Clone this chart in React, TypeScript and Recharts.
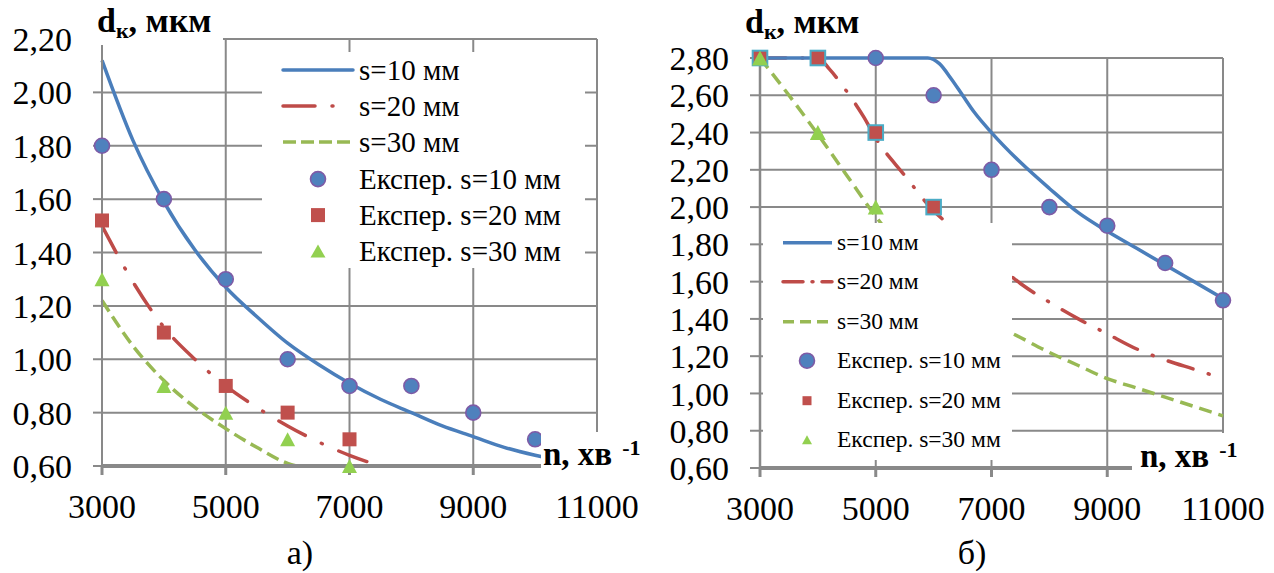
import React from "react";
import { CartesianGrid, ComposedChart, Legend, Line, Scatter, XAxis, YAxis } from "recharts";

type Pt = [number, number];

const nTicks = [3000, 5000, 7000, 9000, 11000];
const leftDTicks = [0.6, 0.8, 1.0, 1.2, 1.4, 1.6, 1.8, 2.0, 2.2];
const rightDTicks = [0.6, 0.8, 1.0, 1.2, 1.4, 1.6, 1.8, 2.0, 2.2, 2.4, 2.6, 2.8];

const calcNames = ["s=10 мм", "s=20 мм", "s=30 мм"];
const expNames = ["Експер. s=10 мм", "Експер. s=20 мм", "Експер. s=30 мм"];

// а) calculated curves
const leftCalc10: Pt[] = [
  [3000, 2.12], [3500, 1.82], [4000, 1.59], [4500, 1.41], [5000, 1.27], [5500, 1.16],
  [6000, 1.06], [6500, 0.98], [7000, 0.91], [7500, 0.85], [8000, 0.8], [8500, 0.75],
  [9000, 0.71], [9500, 0.67], [10000, 0.64], [10400, 0.62],
];
const leftCalc20: Pt[] = [
  [3000, 1.5], [3500, 1.29], [4000, 1.12], [4500, 1.0], [5000, 0.9], [5500, 0.82],
  [6000, 0.75], [6500, 0.69], [7000, 0.64], [7500, 0.6],
];
const leftCalc30: Pt[] = [
  [3000, 1.22], [3500, 1.05], [4000, 0.92], [4500, 0.82], [5000, 0.74], [5500, 0.67],
  [6000, 0.61], [6150, 0.6],
];
// а) experiment
const leftExp10: Pt[] = [
  [3000, 1.8], [4000, 1.6], [5000, 1.3], [6000, 1.0], [7000, 0.9], [8000, 0.9], [9000, 0.8], [10000, 0.7],
];
const leftExp20: Pt[] = [[3000, 1.52], [4000, 1.1], [5000, 0.9], [6000, 0.8], [7000, 0.7]];
const leftExp30: Pt[] = [[3000, 1.3], [4000, 0.9], [5000, 0.8], [6000, 0.7], [7000, 0.6]];

// б) calculated curves
const rightCalc10: Pt[] = [
  [3000, 2.8], [4000, 2.8], [5000, 2.8], [5900, 2.8], [6100, 2.77], [6300, 2.69], [6500, 2.6],
  [6700, 2.51], [7000, 2.4], [7500, 2.24], [8000, 2.1], [8500, 1.97], [9000, 1.87], [9500, 1.78],
  [10000, 1.69], [10500, 1.6], [11000, 1.51],
];
const rightCalc20: Pt[] = [
  [3000, 2.8], [4000, 2.8], [4200, 2.74], [4500, 2.62], [4800, 2.48], [5000, 2.37], [5500, 2.17],
  [6000, 1.98], [6500, 1.85], [7000, 1.72], [7500, 1.59], [8000, 1.49], [8500, 1.4], [9000, 1.32],
  [9500, 1.24], [10000, 1.18], [10500, 1.13], [11000, 1.08],
];
const rightCalc30: Pt[] = [
  [3000, 2.8], [3500, 2.6], [4000, 2.39], [4500, 2.17], [5000, 1.95], [5500, 1.76], [6000, 1.6],
  [6500, 1.47], [7000, 1.38], [7500, 1.3], [8000, 1.22], [8500, 1.15], [9000, 1.08], [9500, 1.03],
  [10000, 0.98], [10500, 0.93], [11000, 0.88],
];
// б) experiment
const rightExp10: Pt[] = [[5000, 2.8], [6000, 2.6], [7000, 2.2], [8000, 2.0], [9000, 1.9], [10000, 1.7], [11000, 1.5]];
const rightExp20: Pt[] = [[3000, 2.8], [4000, 2.8], [5000, 2.4], [6000, 2.0]];
const rightExp30: Pt[] = [[3000, 2.8], [4000, 2.4], [5000, 2.0]];

const FONT = "Liberation Serif, DejaVu Serif, serif";
const GRID = "#898989";
const BLUE = "#4A7EBB";
const RED = "#BE4B48";
const OLIVE = "#98B954";
const DOT_BLUE = "#4F81BD";
const PURPLE = "#7E5BA6";
const SQ_RED = "#C0504D";
const TEAL = "#4BACC6";
const LIME = "#92D050";

const toRows = (pts: Pt[]) => pts.map(([n, d]) => ({ n, d }));
const fmt = (v: number) => v.toFixed(2).replace(".", ",");

const circleShape = (r: number) => (p: any) => (
  <circle cx={p.cx} cy={p.cy} r={r} fill={DOT_BLUE} stroke={PURPLE} strokeWidth={1.6} />
);
const squareShape = (h: number, stroke?: string) => (p: any) => (
  <rect x={p.cx - h} y={p.cy - h} width={2 * h} height={2 * h} fill={SQ_RED}
    stroke={stroke ?? "none"} strokeWidth={2} />
);
const triangleShape = (w: number, h: number) => (p: any) => (
  <polygon
    points={`${p.cx},${p.cy - h / 2} ${p.cx - w / 2},${p.cy + h / 2} ${p.cx + w / 2},${p.cy + h / 2}`}
    fill={LIME}
  />
);

type Row =
  | { kind: "line"; label: string; color: string; dash?: string; cap?: "round" | "butt" }
  | { kind: "circle" | "square" | "triangle"; label: string };

type LegendCfg = {
  rows: Row[];
  rowH: number;
  sampleX: number;
  sampleW: number;
  markerX: number;
  textX: number;
  fontSize: number;
  circleR: number;
  squareH: number;
  triW: number;
  triH: number;
  squeeze: number;
};

function LegendBox({ cfg }: { cfg: LegendCfg }) {
  return (
    <div style={{ background: "#fff", width: "100%", height: "100%", fontFamily: FONT }}>
      {cfg.rows.map((row) => {
        const cy = cfg.rowH / 2;
        let sample: React.ReactNode = null;
        if (row.kind === "line") {
          sample = (
            <line x1={cfg.sampleX} x2={cfg.sampleX + cfg.sampleW} y1={cy} y2={cy} stroke={row.color}
              strokeWidth={3.5} strokeDasharray={row.dash} strokeLinecap={row.cap ?? "butt"} />
          );
        } else if (row.kind === "circle") {
          sample = <circle cx={cfg.markerX} cy={cy} r={cfg.circleR} fill={DOT_BLUE} stroke={PURPLE} strokeWidth={1.6} />;
        } else if (row.kind === "square") {
          sample = <rect x={cfg.markerX - cfg.squareH} y={cy - cfg.squareH} width={2 * cfg.squareH} height={2 * cfg.squareH} fill={SQ_RED} />;
        } else {
          const x = cfg.markerX;
          sample = (
            <polygon points={`${x},${cy - cfg.triH / 2} ${x - cfg.triW / 2},${cy + cfg.triH / 2} ${x + cfg.triW / 2},${cy + cfg.triH / 2}`} fill={LIME} />
          );
        }
        return (
          <div key={row.label} style={{ position: "relative", height: cfg.rowH }}>
            <svg width={cfg.textX} height={cfg.rowH} style={{ position: "absolute", left: 0, top: 0 }}>
              {sample}
            </svg>
            <span style={{
              position: "absolute", left: cfg.textX, top: 0, lineHeight: `${cfg.rowH}px`,
              fontSize: cfg.fontSize, color: "#000", whiteSpace: "nowrap",
              transform: `scaleX(${cfg.squeeze})`, transformOrigin: "left center",
            }}>
              {row.label}
            </span>
          </div>
        );
      })}
    </div>
  );
}

const leftRows: Row[] = [
  { kind: "line", label: calcNames[0], color: BLUE, cap: "round" },
  { kind: "line", label: calcNames[1], color: RED, dash: "32 17 1 40", cap: "round" },
  { kind: "line", label: calcNames[2], color: OLIVE, dash: "13 5" },
  { kind: "circle", label: expNames[0] },
  { kind: "square", label: expNames[1] },
  { kind: "triangle", label: expNames[2] },
];

const rightRows: Row[] = [
  { kind: "line", label: calcNames[0], color: BLUE },
  { kind: "line", label: calcNames[1], color: RED, dash: "20 9 1 9", cap: "round" },
  { kind: "line", label: calcNames[2], color: OLIVE, dash: "11 6" },
  { kind: "circle", label: expNames[0] },
  { kind: "square", label: expNames[1] },
  { kind: "triangle", label: expNames[2] },
];

const axisTick = { fontSize: 34, fontFamily: FONT, fill: "#000" };

function LeftChart() {
  return (
    <ComposedChart width={640} height={573} margin={{ top: 39, right: 43, bottom: 57, left: 0 }}>
      <CartesianGrid stroke={GRID} strokeWidth={2} />
      <XAxis type="number" dataKey="n" domain={[3000, 11000]} ticks={nTicks} interval={0}
        height={50} tick={axisTick} tickSize={9} tickMargin={19}
        axisLine={{ stroke: GRID, strokeWidth: 4 }} tickLine={{ stroke: GRID, strokeWidth: 3 }} />
      <YAxis type="number" dataKey="d" domain={[0.6, 2.2]} ticks={leftDTicks} interval={0}
        width={102} tick={axisTick} tickSize={9} tickMargin={21} tickFormatter={fmt}
        axisLine={{ stroke: GRID, strokeWidth: 2 }} tickLine={{ stroke: GRID, strokeWidth: 2 }} />
      <Line data={toRows(leftCalc30)} dataKey="d" type="monotone" stroke={OLIVE} strokeWidth={3.5}
        strokeDasharray="13 6" dot={false} isAnimationActive={false} />
      <Line data={toRows(leftCalc20)} dataKey="d" type="monotone" stroke={RED} strokeWidth={3.5}
        strokeDasharray="30 18 1 18" strokeLinecap="round" dot={false} isAnimationActive={false} />
      <Line data={toRows(leftCalc10)} dataKey="d" type="monotone" stroke={BLUE} strokeWidth={3.5}
        dot={false} isAnimationActive={false} />
      <Scatter data={toRows(leftExp10)} dataKey="d" shape={circleShape(7.5)} isAnimationActive={false} />
      <Scatter data={toRows(leftExp20)} dataKey="d" shape={squareShape(7)} isAnimationActive={false} />
      <Scatter data={toRows(leftExp30)} dataKey="d" shape={triangleShape(15, 14)} isAnimationActive={false} />
      <Legend layout="vertical" align="center" verticalAlign="middle"
        wrapperStyle={{ left: 262, top: 52, width: 323, height: 216 }}
        content={() => (
          <LegendBox cfg={{ rows: leftRows, rowH: 36.2, sampleX: 21, sampleW: 70, markerX: 56, textX: 97,
            fontSize: 29, circleR: 7.5, squareH: 7, triW: 15, triH: 13, squeeze: 1 }} />
        )} />
    </ComposedChart>
  );
}

function RightChart() {
  return (
    <ComposedChart width={634} height={573} margin={{ top: 58, right: 51, bottom: 55, left: 0 }}>
      <CartesianGrid stroke={GRID} strokeWidth={2} />
      <XAxis type="number" dataKey="n" domain={[3000, 11000]} ticks={nTicks} interval={0}
        height={50} tick={axisTick} tickSize={9} tickMargin={19}
        axisLine={{ stroke: GRID, strokeWidth: 4 }} tickLine={{ stroke: GRID, strokeWidth: 3 }} />
      <YAxis type="number" dataKey="d" domain={[0.6, 2.8]} ticks={rightDTicks} interval={0}
        width={120} tick={axisTick} tickSize={10} tickMargin={21} tickFormatter={fmt}
        axisLine={{ stroke: GRID, strokeWidth: 2.5 }} tickLine={{ stroke: GRID, strokeWidth: 2 }} />
      <Line data={toRows(rightCalc20)} dataKey="d" type="monotone" stroke={RED} strokeWidth={3.5}
        strokeDasharray="26 16 1 16" strokeLinecap="round" dot={false} isAnimationActive={false} />
      <Line data={toRows(rightCalc30)} dataKey="d" type="monotone" stroke={OLIVE} strokeWidth={3.5}
        strokeDasharray="13 7" dot={false} isAnimationActive={false} />
      <Line data={toRows(rightCalc10)} dataKey="d" type="monotone" stroke={BLUE} strokeWidth={3.5}
        dot={false} isAnimationActive={false} />
      <Scatter data={toRows(rightExp10)} dataKey="d" shape={circleShape(7.5)} isAnimationActive={false} />
      <Scatter data={toRows(rightExp20)} dataKey="d" shape={squareShape(7.3, TEAL)} isAnimationActive={false} />
      <Scatter data={toRows(rightExp30)} dataKey="d" shape={triangleShape(16, 15)} isAnimationActive={false} />
      <Legend layout="vertical" align="center" verticalAlign="middle"
        wrapperStyle={{ left: 123, top: 223, width: 249, height: 237 }}
        content={() => (
          <LegendBox cfg={{ rows: rightRows, rowH: 39.4, sampleX: 20, sampleW: 49, markerX: 44, textX: 74,
            fontSize: 24, circleR: 7.5, squareH: 4.5, triW: 10, triH: 9, squeeze: 0.98 }} />
        )} />
    </ComposedChart>
  );
}

function Overlay() {
  const bold = { fontFamily: FONT, fontWeight: 700, fill: "#000" } as const;
  return (
    <svg width={1274} height={573} style={{ position: "absolute", left: 0, top: 0, pointerEvents: "none" }}>
      {/* а) axis titles */}
      <rect x={92} y={0} width={131} height={45} fill="#fff" />
      <text x={97} y={32} fontSize={34} {...bold}>
        d<tspan fontSize={22} dy={6}>к</tspan><tspan dy={-6}>, мкм</tspan>
      </text>
      <rect x={541} y={432} width={99} height={46} fill="#fff" />
      <text x={543} y={465} fontSize={33} {...bold}>
        n, хв<tspan fontSize={22} dx={10} dy={-10}>-1</tspan>
      </text>
      {/* б) axis titles */}
      <text x={745} y={33} fontSize={34} {...bold}>
        d<tspan fontSize={22} dy={6}>к</tspan><tspan dy={-6}>, мкм</tspan>
      </text>
      <rect x={1132} y={433} width={120} height={45} fill="#fff" />
      <text x={1140} y={467} fontSize={33} {...bold}>
        n, хв<tspan fontSize={22} dx={10} dy={-10}>-1</tspan>
      </text>
      {/* captions */}
      <text x={300} y={564} fontSize={34} textAnchor="middle" fontFamily={FONT} fill="#000">а)</text>
      <text x={972} y={564} fontSize={34} textAnchor="middle" fontFamily={FONT} fill="#000">б)</text>
    </svg>
  );
}

export default function App() {
  return (
    <div style={{ position: "absolute", left: 0, top: 0, width: 1274, height: 573, background: "#fff" }}>
      <div style={{ position: "absolute", left: 0, top: 0 }}>
        <LeftChart />
      </div>
      <div style={{ position: "absolute", left: 640, top: 0 }}>
        <RightChart />
      </div>
      <Overlay />
    </div>
  );
}
